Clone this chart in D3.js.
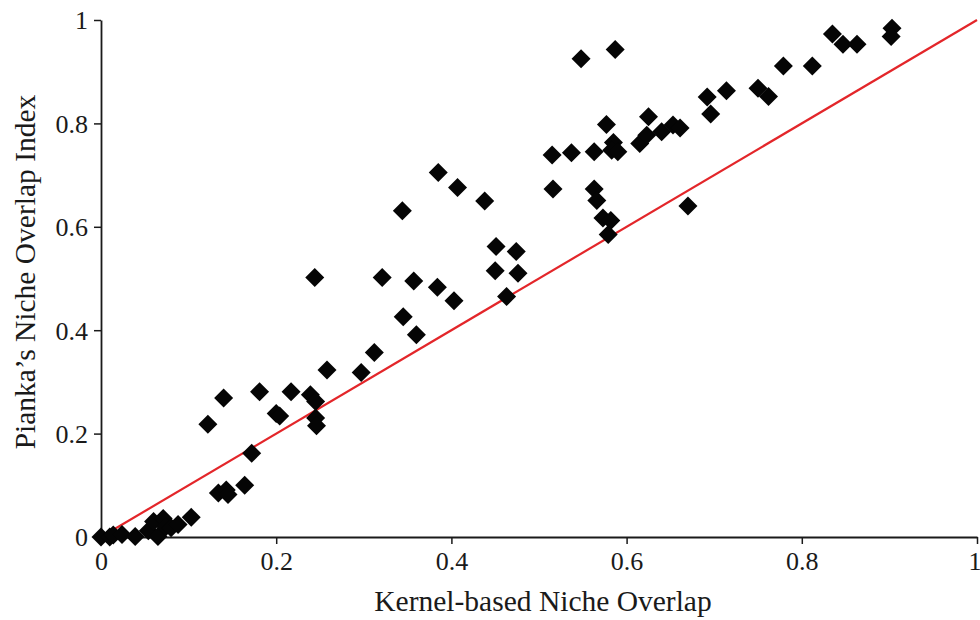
<!DOCTYPE html>
<html>
<head>
<meta charset="utf-8">
<script src="https://cdn.jsdelivr.net/npm/d3@7"></script>
<style>
  html, body { margin: 0; padding: 0; background: #fff; }
  svg { display: block; }
</style>
</head>
<body>
<svg id="chart" width="980" height="620"></svg>
<script>
// Kernel-based overlap (x) vs Pianka's index (y) for each species pair
const kernelOverlap = [
  0.000, 0.010, 0.014, 0.024, 0.039, 0.054, 0.060, 0.065, 0.071, 0.074,
  0.080, 0.088, 0.103, 0.134, 0.143, 0.145, 0.164, 0.172, 0.122, 0.140,
  0.181, 0.200, 0.204, 0.217, 0.239, 0.245, 0.245, 0.246, 0.258, 0.297,
  0.312, 0.244, 0.321, 0.344, 0.345, 0.360, 0.357, 0.384, 0.385, 0.403,
  0.407, 0.438, 0.451, 0.474, 0.450, 0.476, 0.463, 0.515, 0.537, 0.563,
  0.585, 0.583, 0.590, 0.577, 0.548, 0.587, 0.615, 0.623, 0.625, 0.640,
  0.653, 0.661, 0.692, 0.696, 0.714, 0.750, 0.762, 0.779, 0.812, 0.835,
  0.847, 0.863, 0.903, 0.902, 0.516, 0.563, 0.566, 0.573, 0.582, 0.579,
  0.670
];
const piankaIndex = [
  0.000, 0.000, 0.004, 0.005, 0.001, 0.012, 0.030, 0.001, 0.036, 0.020,
  0.018, 0.024, 0.038, 0.085, 0.091, 0.082, 0.100, 0.162, 0.218, 0.269,
  0.281, 0.239, 0.234, 0.281, 0.275, 0.262, 0.230, 0.215, 0.323, 0.318,
  0.357, 0.502, 0.502, 0.631, 0.426, 0.391, 0.495, 0.483, 0.705, 0.457,
  0.676, 0.650, 0.562, 0.552, 0.515, 0.510, 0.465, 0.739, 0.743, 0.745,
  0.763, 0.748, 0.745, 0.798, 0.925, 0.943, 0.761, 0.777, 0.813, 0.784,
  0.797, 0.791, 0.851, 0.818, 0.863, 0.868, 0.852, 0.911, 0.911, 0.973,
  0.953, 0.953, 0.984, 0.968, 0.673, 0.673, 0.651, 0.617, 0.612, 0.585,
  0.640
];
const xTicks = [0, 0.2, 0.4, 0.6, 0.8, 1];
const yTicks = [0, 0.2, 0.4, 0.6, 0.8, 1];
const xTitle = "Kernel-based Niche Overlap";
const yTitle = "Pianka\u2019s Niche Overlap Index";

const svg = d3.select("#chart");
const margin = { left: 101, right: 3, top: 20, bottom: 83 };
const W = 980, H = 620;

const x = d3.scaleLinear().domain([0, 1]).range([margin.left, W - margin.right]);
const y = d3.scaleLinear().domain([0, 1]).range([H - margin.bottom, margin.top]);

const fmt = d => (d === 0 || d === 1) ? String(d) : d3.format(".1f")(d);
const font = "'Liberation Serif', 'Times New Roman', serif";

// axes
const xAxis = svg.append("g")
  .attr("transform", `translate(0,${y(0)})`)
  .call(d3.axisBottom(x).tickValues(xTicks).tickFormat(fmt).tickSizeInner(7).tickSizeOuter(0).tickPadding(8));
const yAxis = svg.append("g")
  .attr("transform", `translate(${x(0)},0)`)
  .call(d3.axisLeft(y).tickValues(yTicks).tickFormat(fmt).tickSizeInner(7).tickSizeOuter(0).tickPadding(6));

[xAxis, yAxis].forEach(g => {
  g.select(".domain").attr("stroke", "#1a1a1a").attr("stroke-width", 1.8);
  g.selectAll(".tick line").attr("stroke", "#1a1a1a").attr("stroke-width", 1.5);
  g.selectAll(".tick text")
    .attr("font-family", font)
    .attr("font-size", 26)
    .attr("fill", "#1a1a1a");
});
yAxis.selectAll(".tick text").attr("dy", "0.34em");
// keep the last x label inside the frame
xAxis.selectAll(".tick text").filter(d => d === 1).attr("dx", "-0.1em");

// 1:1 reference line
svg.append("line")
  .attr("x1", x(0)).attr("y1", y(0))
  .attr("x2", x(1)).attr("y2", y(1))
  .attr("stroke", "#e3262a")
  .attr("stroke-width", 2.2);

// diamond markers
const diamond = "M0,-9.5L9.5,0L0,9.5L-9.5,0Z";
svg.append("g")
  .selectAll("path")
  .data(kernelOverlap.map((k, i) => [k, piankaIndex[i]]))
  .join("path")
  .attr("d", diamond)
  .attr("transform", d => `translate(${x(d[0])},${y(d[1])})`)
  .attr("fill", "#050505");

// axis titles
svg.append("text")
  .attr("x", (x(0) + x(1)) / 2 + 4)
  .attr("y", 611)
  .attr("text-anchor", "middle")
  .attr("font-family", font)
  .attr("font-size", 29.5)
  .attr("fill", "#1a1a1a")
  .text(xTitle);

svg.append("text")
  .attr("transform", `translate(35,${272}) rotate(-90)`)
  .attr("text-anchor", "middle")
  .attr("font-family", font)
  .attr("font-size", 29.5)
  .attr("fill", "#1a1a1a")
  .text(yTitle);
</script>
</body>
</html>
